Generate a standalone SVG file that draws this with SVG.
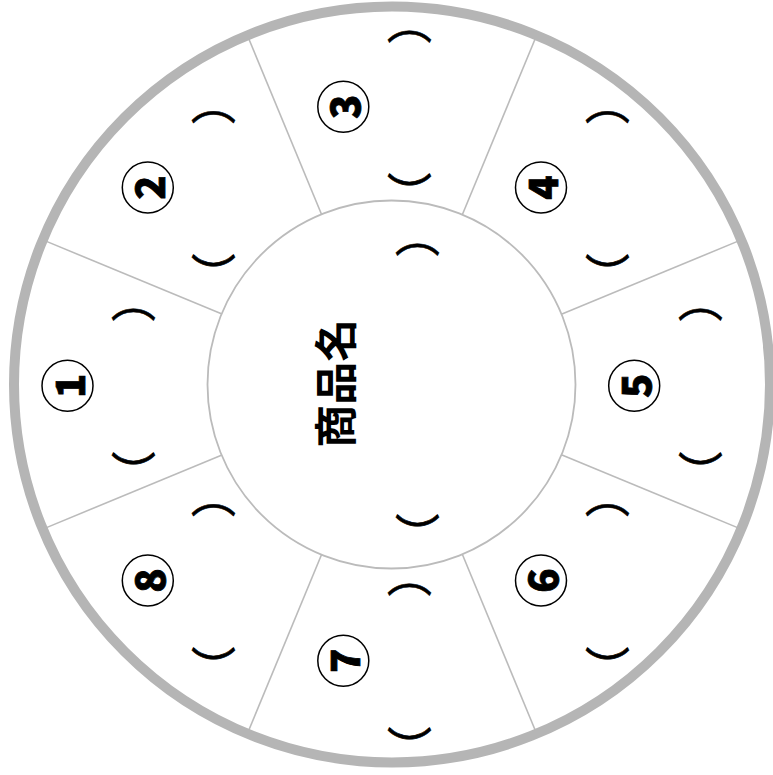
<svg xmlns="http://www.w3.org/2000/svg" width="773" height="775" viewBox="0 0 773 775">
<style>
.ring{fill:none;stroke:#b5b5b5;stroke-width:10}
.inner{fill:#fff;stroke:#bbbbbb;stroke-width:1.8}
.spoke{stroke:#bbbbbb;stroke-width:1.6;fill:none}
.nc{fill:none;stroke:#000;stroke-width:1.5}
.num{font-family:"Noto Sans CJK JP","Noto Sans",sans-serif;font-weight:900;font-size:40px;fill:#000;stroke:#000;stroke-width:0.8;text-anchor:middle;dominant-baseline:central}
.br{font-family:"Noto Sans CJK JP",sans-serif;font-size:45px;fill:#000;stroke:#000;stroke-width:0.6;text-anchor:middle;dominant-baseline:central}
.title{font-family:"Noto Sans CJK JP",sans-serif;font-weight:bold;font-size:43px;fill:#000;text-anchor:middle;dominant-baseline:central}
</style>
<rect width="773" height="775" fill="#fff"/>
<g id="connectors">
<line class="spoke" x1="321.59" y1="214.5" x2="248.88" y2="38.97"/>
<line class="spoke" x1="462.41" y1="214.5" x2="535.12" y2="38.97"/>
<line class="spoke" x1="562" y1="314.09" x2="737.53" y2="241.38"/>
<line class="spoke" x1="562" y1="454.91" x2="737.53" y2="527.62"/>
<line class="spoke" x1="462.41" y1="554.5" x2="535.12" y2="730.03"/>
<line class="spoke" x1="321.59" y1="554.5" x2="248.88" y2="730.03"/>
<line class="spoke" x1="222" y1="454.91" x2="46.47" y2="527.62"/>
<line class="spoke" x1="222" y1="314.09" x2="46.47" y2="241.38"/>
</g>
<g id="outer-ring"><circle class="ring" cx="392" cy="384.5" r="378"/></g>
<g id="center">
<circle class="inner" cx="391.5" cy="384.5" r="184"/>
<text class="title" transform="translate(332.5,383.3) rotate(-90)">商品名</text>
<text class="br" transform="translate(415,235) rotate(-90)">）</text>
<text class="br" transform="translate(415,535) rotate(-90)">（</text>
</g>
<g id="seg1">
<circle class="nc" cx="67.5" cy="385.7" r="25.5"/>
<text class="num" transform="translate(67.5,385.7) rotate(-90)">1</text>
<text class="br" transform="translate(131,300) rotate(-90)">）</text>
<text class="br" transform="translate(131,473) rotate(-90)">（</text>
</g>
<g id="seg2">
<circle class="nc" cx="147.8" cy="187.5" r="25.5"/>
<text class="num" transform="translate(147.8,187.5) rotate(-90)">2</text>
<text class="br" transform="translate(211.5,102.5) rotate(-90)">）</text>
<text class="br" transform="translate(211.5,275) rotate(-90)">（</text>
</g>
<g id="seg3">
<circle class="nc" cx="343.3" cy="106.7" r="25.5"/>
<text class="num" transform="translate(343.3,106.7) rotate(-90)">3</text>
<text class="br" transform="translate(407,22) rotate(-90)">）</text>
<text class="br" transform="translate(407,194) rotate(-90)">（</text>
</g>
<g id="seg4">
<circle class="nc" cx="541" cy="187.5" r="25.5"/>
<text class="num" transform="translate(541,187.5) rotate(-90)">4</text>
<text class="br" transform="translate(605,102.5) rotate(-90)">）</text>
<text class="br" transform="translate(605,275) rotate(-90)">（</text>
</g>
<g id="seg5">
<circle class="nc" cx="634.2" cy="385.8" r="25.5"/>
<text class="num" transform="translate(634.2,385.8) rotate(-90)">5</text>
<text class="br" transform="translate(698,300) rotate(-90)">）</text>
<text class="br" transform="translate(698,473) rotate(-90)">（</text>
</g>
<g id="seg6">
<circle class="nc" cx="541" cy="580.5" r="25.5"/>
<text class="num" transform="translate(541,580.5) rotate(-90)">6</text>
<text class="br" transform="translate(605,495.5) rotate(-90)">）</text>
<text class="br" transform="translate(605,668) rotate(-90)">（</text>
</g>
<g id="seg7">
<circle class="nc" cx="343.3" cy="660.8" r="25.5"/>
<text class="num" transform="translate(343.3,660.8) rotate(-90)">7</text>
<text class="br" transform="translate(407,575) rotate(-90)">）</text>
<text class="br" transform="translate(407,748) rotate(-90)">（</text>
</g>
<g id="seg8">
<circle class="nc" cx="147.8" cy="580.5" r="25.5"/>
<text class="num" transform="translate(147.8,580.5) rotate(-90)">8</text>
<text class="br" transform="translate(211.5,495.5) rotate(-90)">）</text>
<text class="br" transform="translate(211.5,668) rotate(-90)">（</text>
</g>
</svg>
